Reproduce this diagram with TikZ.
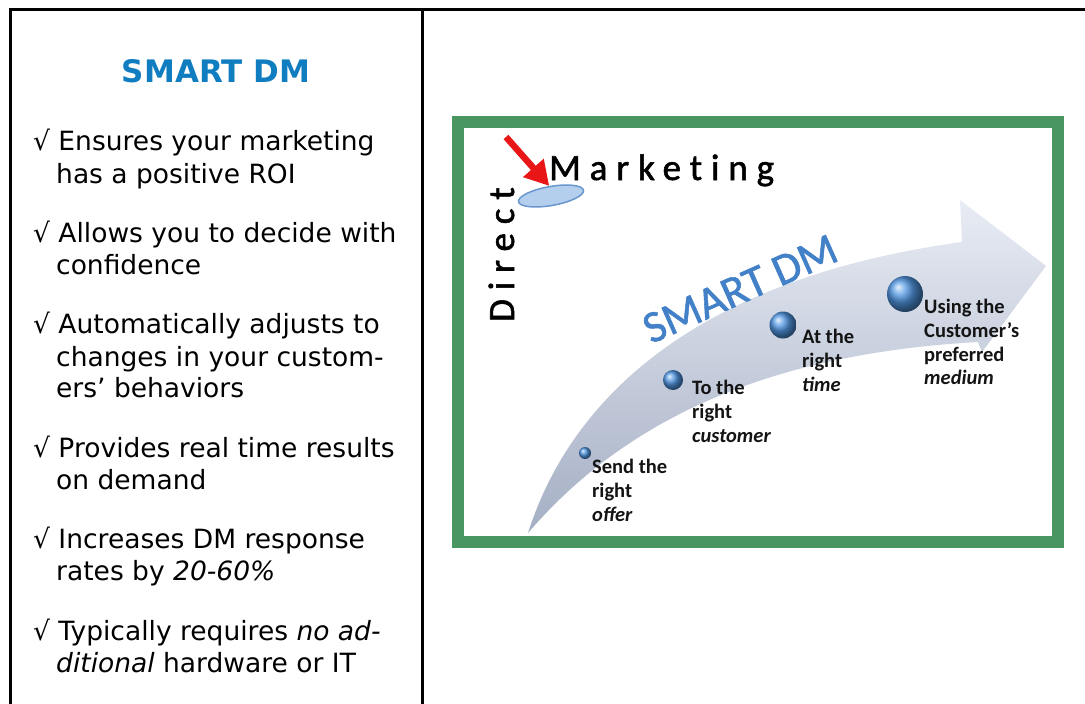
\documentclass[tikz,border=0pt]{standalone}
\usepackage{fontspec}
\setmainfont{DejaVu Sans}
\newfontfamily\calfont{Carlito}
\newfontfamily\dmfont[FakeBold=1.2]{Carlito}
\newfontfamily\spacedfont[LetterSpace=24,Ligatures=NoCommon,FakeBold=1.5]{Carlito}
\usetikzlibrary{arrows.meta,shapes.geometric,shadings}
\definecolor{smartblue}{RGB}{16,125,193}
\definecolor{framegreen}{RGB}{74,150,96}
\definecolor{arrowred}{RGB}{232,22,22}
\definecolor{ballblue}{RGB}{80,150,225}
\definecolor{bandlight}{RGB}{232,236,244}
\definecolor{banddark}{RGB}{165,175,196}
\definecolor{discfill}{RGB}{180,207,238}
\definecolor{discedge}{RGB}{105,150,205}
\definecolor{dmblue}{RGB}{66,128,200}
\definecolor{labeltext}{RGB}{20,20,20}
\begin{document}
\begin{tikzpicture}[x=1pt,y=-1pt,
  rule/.style={line width=3pt},
  bullet/.style={anchor=base west, inner sep=0pt, font=\fontsize{26.5}{32}\selectfont},
  steplabel/.style={anchor=north west, align=left, inner sep=0pt,
    font=\calfont\bfseries\fontsize{20.5}{23.8}\selectfont, text=labeltext},
  sphere/.style={circle, inner sep=0pt, ball color=ballblue},
  band/.style={top color=bandlight, bottom color=banddark},
  spaced/.style={inner sep=0pt, font=\spacedfont\fontsize{37}{40}\selectfont},
]
\useasboundingbox (0,0) rectangle (1085,704);
\fill[white] (0,0) rectangle (1085,704);

% table rules
\coordinate (tl) at (9,9.5);
\coordinate (tr) at (1085,9.5);
\coordinate (ltop) at (10.5,8);
\coordinate (lbot) at (10.5,704);
\coordinate (mtop) at (422,8);
\coordinate (mbot) at (422,704);
\draw[rule] (tl) -- (tr);
\draw[rule] (ltop) -- (lbot);
\draw[rule] (mtop) -- (mbot);

% left panel
\node[anchor=base, inner sep=0pt, font=\bfseries\fontsize{31}{36}\selectfont, text=smartblue] (title) at (216,82) {SMART DM};

\node[bullet] (b1a) at (33,150) {√ Ensures your marketing};
\node[bullet] (b1b) at (56,183) {has a positive ROI};
\node[bullet] (b2a) at (33,242) {√ Allows you to decide with};
\node[bullet] (b2b) at (56,274) {confidence};
\node[bullet] (b3a) at (33,333) {√ Automatically adjusts to};
\node[bullet] (b3b) at (56,366) {changes in your custom-};
\node[bullet] (b3c) at (56,397) {ers’ behaviors};
\node[bullet] (b4a) at (33,457) {√ Provides real time results};
\node[bullet] (b4b) at (56,489) {on demand};
\node[bullet] (b5a) at (33,548) {√ Increases DM response};
\node[bullet] (b5b) at (56,580) {rates by \textit{20-60\%}};
\node[bullet] (b6a) at (33,640) {√ Typically requires \textit{no ad-}};
\node[bullet] (b6b) at (56,672) {\textit{ditional} hardware or IT};

% green frame
\draw[framegreen, line width=11.5pt] (458,122) rectangle (1058,542);

% curved arrow band
\coordinate (tail) at (528,533);
\coordinate (upj) at (962,242);
\coordinate (headtop) at (960,200);
\coordinate (headtip) at (1046,266);
\coordinate (headbot) at (982,352);
\coordinate (lowj) at (978,342);
\shade[band] (tail) .. controls (572,395) and (700,278) .. (upj) -- (headtop) -- (headtip) -- (headbot) -- (lowj) .. controls (800,352) and (640,402) .. (tail) -- cycle;

% Direct Marketing
\node[spaced, anchor=base west] (mkt) at (549,180) {Marketing};
\node[spaced, anchor=base west, rotate=90] (direct) at (514,322) {Direct};

% disc and red arrow
\node[ellipse, minimum width=66pt, minimum height=19pt, rotate=10, fill=discfill, draw=discedge, line width=1.5pt] (disc) at (551,196) {};
\coordinate (redtail) at (506,137);
\draw[arrowred, line width=6.5pt, -{Triangle[width=26pt,length=24pt]}] (redtail) -- (disc.north);

% SMART DM on the arrow
\node[rotate=24, anchor=base, inner sep=0pt, font=\dmfont\fontsize{45}{45}\selectfont, text=dmblue] (dm) at (746,302) {SMART DM};

% spheres
\node[sphere, minimum size=12pt] (s1) at (585,453) {};
\node[sphere, minimum size=20pt] (s2) at (673,380) {};
\node[sphere, minimum size=27pt] (s3) at (783,325) {};
\node[sphere, minimum size=36pt] (s4) at (905,294) {};

% labels
\node[steplabel] (l1) at (592,459) {Send the\\right\\\textit{offer}};
\node[steplabel] (l2) at (692,380) {To the\\right\\\textit{customer}};
\node[steplabel] (l3) at (802,329) {At the\\right\\\textit{time}};
\node[steplabel] (l4) at (924,299) {Using the\\Customer’s\\preferred\\\textit{medium}};
\end{tikzpicture}
\end{document}
